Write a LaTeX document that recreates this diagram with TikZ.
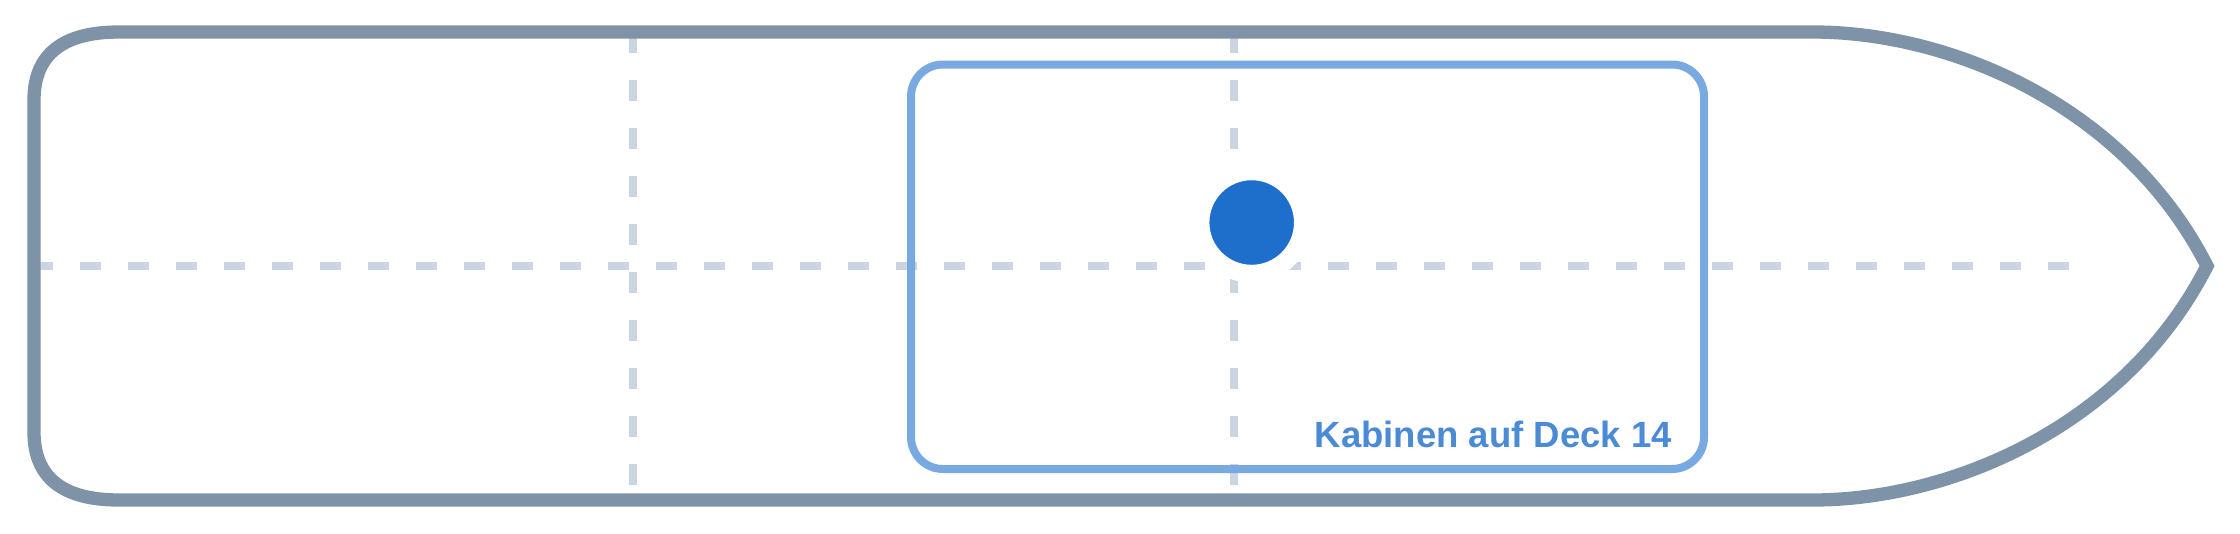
\documentclass[tikz,border=0pt]{standalone}
\usepackage{fontspec}
\setmainfont{Liberation Sans}
\definecolor{hullgray}{RGB}{127,147,168}
\definecolor{gridgray}{RGB}{203,213,225}
\definecolor{rectblue}{RGB}{121,169,225}
\definecolor{dotblue}{RGB}{30,111,204}
\definecolor{labelblue}{RGB}{75,139,214}
\tikzset{
  hullline/.style={draw=hullgray, line width=13.3pt, line join=miter},
  gridline/.style={draw=gridgray, line width=8pt, dash pattern=on 21.33pt off 26.67pt},
  cabinbox/.style={draw=rectblue, line width=8pt, rounded corners=32pt, inner sep=0pt},
  markerdot/.style={circle, fill=dotblue, draw=white, line width=18pt, minimum size=102.6pt, inner sep=0pt},
  decklabel/.style={anchor=base east, text=labelblue, inner sep=0pt, font=\fontsize{36.5}{40}\selectfont\bfseries}
}
\begin{document}
\begin{tikzpicture}[x=1pt,y=-1pt]
\useasboundingbox[fill=white] (0,0) rectangle (2240,533);
% grid lines
\coordinate (hL) at (31.5,266);
\coordinate (hR) at (2069,266);
\coordinate (v1T) at (633.3,32);
\coordinate (v1B) at (633.3,500);
\coordinate (v2T) at (1233.7,32);
\coordinate (v2B) at (1233.7,500);
\draw[gridline] (hL) -- (hR);
\draw[gridline] (v1T) -- (v1B);
\draw[gridline] (v2T) -- (v2B);
% cabin area
\node[cabinbox, minimum width=793pt, minimum height=404.5pt] (cabins) at (1307.5,266.75) {};
\node[decklabel] (label) at (1672,447) {Kabinen auf Deck 14};
% marker
\node[markerdot] (dot) at (1251.7,222.5) {};
% hull
\draw[hullline] (119,32) -- (1813,32)
  .. controls (1950,32) and (2125,105) .. (2207,266)
  .. controls (2125,427) and (1950,500) .. (1813,500)
  -- (119,500)
  .. controls (62.3,500) and (34,477.3) .. (34,432)
  -- (34,100)
  .. controls (34,54.7) and (62.3,32) .. (119,32) -- cycle;
\end{tikzpicture}
\end{document}
